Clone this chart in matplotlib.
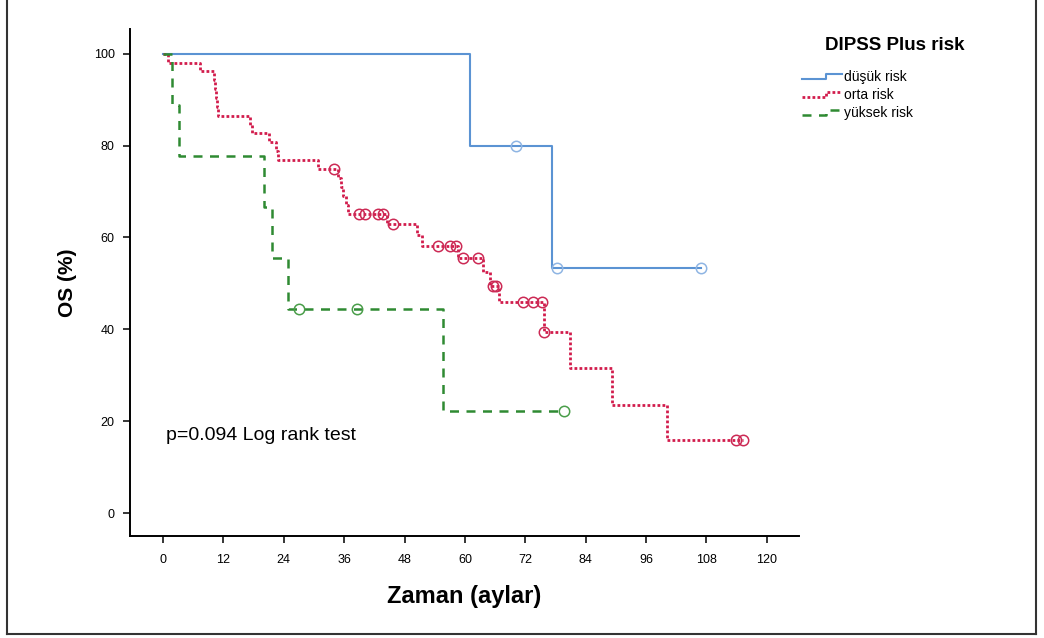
import matplotlib
matplotlib.use("Agg")
import matplotlib.pyplot as plt
from matplotlib.lines import Line2D
from matplotlib.legend_handler import HandlerBase

plt.rcParams['font.family'] = ['Liberation Sans', 'DejaVu Sans']

# Kaplan-Meier verileri
# düşük risk
low_t = [0, 61.0, 77.4, 107.0]
low_s = [100, 80.0, 53.3, 53.3]
low_cens_t = [70.2, 78.4, 107.0]
low_cens_s = [80.0, 53.3, 53.3]

# orta risk
mid_t = [0, 0.9, 7.4, 10.2, 10.4, 10.6, 10.8, 11.0, 17.3, 17.6, 21.1, 22.5, 22.8, 30.8,
         34.8, 35.3, 35.8, 36.3, 36.8, 44.6, 50.5, 51.5, 58.7, 63.5, 65.0, 66.8,
         75.8, 80.8, 89.2, 100.1, 115.2]
mid_s = [100, 98.1, 96.2, 94.2, 92.3, 90.4, 88.5, 86.5, 84.6, 82.7, 80.8, 78.8, 76.9, 75.0,
         73.0, 71.1, 69.1, 67.1, 65.2, 62.9, 60.6, 58.2, 55.6, 52.5, 49.4, 45.9,
         39.4, 31.5, 23.6, 15.8, 15.8]
mid_cens_t = [34.0, 39.0, 40.2, 42.8, 43.8, 45.8, 54.7, 57.1, 58.3, 59.7, 62.7,
              65.6, 66.2, 71.6, 73.6, 75.4, 75.8, 113.8, 115.2]
mid_cens_s = [75.0, 65.2, 65.2, 65.2, 65.2, 62.9, 58.2, 58.2, 58.2, 55.6, 55.6,
              49.4, 49.4, 45.9, 45.9, 45.9, 39.4, 15.8, 15.8]

# yüksek risk
high_t = [0, 1.8, 3.2, 20.1, 21.7, 24.9, 55.7, 79.6]
high_s = [100, 88.9, 77.8, 66.7, 55.6, 44.4, 22.2, 22.2]
high_cens_t = [27.0, 38.6, 79.6]
high_cens_s = [44.4, 44.4, 22.2]

labels = ['düşük risk', 'orta risk', 'yüksek risk']
x_ticks = list(range(0, 121, 12))
y_ticks = list(range(0, 101, 20))


class StepHandler(HandlerBase):
    # lejantta basamak şeklinde çizgi
    def create_artists(self, legend, orig_handle, xdescent, ydescent,
                       width, height, fontsize, trans):
        x0 = -xdescent
        y0 = -ydescent
        xs = [x0, x0 + width * 0.6, x0 + width * 0.6, x0 + width]
        ys = [y0 + height * 0.2, y0 + height * 0.2, y0 + height * 0.75, y0 + height * 0.75]
        line = Line2D(xs, ys)
        line.update_from(orig_handle)
        line.set_drawstyle('default')
        line.set_marker('None')
        line.set_clip_on(False)
        line.set_clip_box(None)
        line.set_transform(trans)
        return [line]


fig = plt.figure(figsize=(10.44, 6.38), dpi=100)
ax = fig.add_axes([130 / 1044, 1 - 536 / 638, 669 / 1044, 507 / 638])

groups = [
    (low_t, low_s, low_cens_t, low_cens_s, '#5b93d3', '#8fb5e3', dict(linestyle='-', lw=1.5)),
    (mid_t, mid_s, mid_cens_t, mid_cens_s, '#d21c4c', '#cc2a55', dict(linestyle=(0, (1, 0.8)), lw=2.0)),
    (high_t, high_s, high_cens_t, high_cens_s, '#2f8a32', '#4a9e4a', dict(linestyle=(0, (3.6, 3.0)), lw=1.8)),
]

handles = []
for (t, s, ct, cs, col, ccol, style), lab in zip(groups, labels):
    ln, = ax.step(t, s, where='post', color=col, label=lab, **style)
    ax.plot(ct, cs, linestyle='none', marker='o', markersize=7.5,
            markerfacecolor='none', markeredgecolor=ccol, markeredgewidth=1.1)
    handles.append(ln)

ax.set_xlim(-6.56, 126.4)
ax.set_ylim(-5.0, 105.4)
ax.set_xticks(x_ticks)
ax.set_yticks(y_ticks)
ax.tick_params(direction='out', length=5, width=1.1, labelsize=9, colors='black')
ax.tick_params(axis='x', pad=8)
ax.tick_params(axis='y', pad=6)
for side in ['top', 'right']:
    ax.spines[side].set_visible(False)
for side in ['left', 'bottom']:
    ax.spines[side].set_linewidth(1.4)

ax.set_xlabel('Zaman (aylar)', fontsize=17, fontweight='bold', labelpad=14)
ax.set_ylabel('OS (%)', fontsize=15, fontweight='bold', labelpad=12)

ax.text(0.5, 16.8, 'p=0.094 Log rank test', fontsize=14, va='center', ha='left')

fig.text(825 / 1044, 1 - 46 / 638, 'DIPSS Plus risk', fontsize=13.5,
         fontweight='bold', va='center', ha='left')
fig.legend(handles=handles, labels=labels, loc='upper left',
           bbox_to_anchor=(802 / 1044, 1 - 70 / 638), frameon=False,
           fontsize=10, handlelength=2.9, handletextpad=0.15, labelspacing=0.3,
           borderpad=0, borderaxespad=0,
           handler_map={Line2D: StepHandler()})

# dış çerçeve
for xs, ys in [([7, 7], [-5, 634]), ([7, 1036], [634, 634]), ([1036, 1036], [-5, 634])]:
    fig.add_artist(Line2D([x / 1044 for x in xs], [1 - y / 638 for y in ys],
                          color='#333333', lw=1.5))

fig.savefig('out.png', dpi=100)
